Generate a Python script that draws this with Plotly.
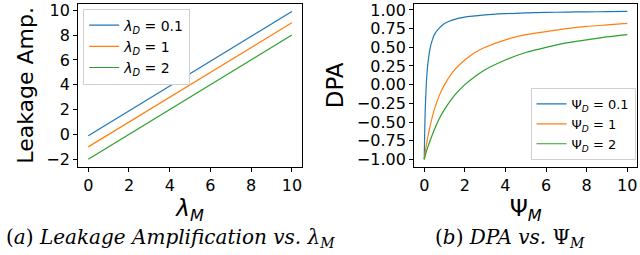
import plotly.graph_objects as go

# ---- data ----
lam_m = [0, 2, 4, 6, 8, 10]
leak_01 = [-0.1, 1.9, 3.9, 5.9, 7.9, 9.9]
leak_1 = [-1.0, 1.0, 3.0, 5.0, 7.0, 9.0]
leak_2 = [-2.0, 0.0, 2.0, 4.0, 6.0, 8.0]

psi_m = [0, 0.02, 0.05, 0.1, 0.15, 0.2, 0.3, 0.4, 0.5, 0.75, 1, 1.5, 2, 2.5, 3, 4, 5, 6, 7, 8, 9, 10]
dpa_01 = [-1.0, -0.67, -0.33, 0.0, 0.2, 0.33, 0.5, 0.6, 0.67, 0.76, 0.82, 0.875, 0.905, 0.92, 0.935, 0.95, 0.96, 0.967, 0.972, 0.975, 0.978, 0.98]
dpa_1 = [-1.0, -0.96, -0.9, -0.82, -0.74, -0.67, -0.54, -0.43, -0.33, -0.14, 0.0, 0.2, 0.33, 0.43, 0.5, 0.6, 0.67, 0.71, 0.75, 0.78, 0.8, 0.82]
dpa_2 = [-1.0, -0.98, -0.95, -0.9, -0.86, -0.82, -0.74, -0.67, -0.6, -0.45, -0.33, -0.14, 0.0, 0.11, 0.2, 0.33, 0.43, 0.5, 0.56, 0.6, 0.64, 0.67]

left_names = ["<i>λ<sub>D</sub></i> = 0.1", "<i>λ<sub>D</sub></i> = 1", "<i>λ<sub>D</sub></i> = 2"]
right_names = ["Ψ<sub><i>D</i></sub> = 0.1", "Ψ<sub><i>D</i></sub> = 1", "Ψ<sub><i>D</i></sub> = 2"]
colors = ["#1f77b4", "#ff7f0e", "#2ca02c"]

fig = go.Figure()
for ys, name, c in zip([leak_01, leak_1, leak_2], left_names, colors):
    fig.add_trace(go.Scatter(x=lam_m, y=ys, mode="lines", name=name,
                             line=dict(color=c, width=1.2),
                             xaxis="x", yaxis="y", legend="legend"))
for ys, name, c in zip([dpa_01, dpa_1, dpa_2], right_names, colors):
    fig.add_trace(go.Scatter(x=psi_m, y=ys, mode="lines", name=name,
                             line=dict(color=c, width=1.2, shape="spline", smoothing=0.6),
                             xaxis="x2", yaxis="y2", legend="legend2"))

axis_common = dict(showline=True, linecolor="black", linewidth=1, mirror=True,
                   ticks="outside", ticklen=4, tickcolor="black", showgrid=False,
                   zeroline=False, ticklabeloverflow="allow",
                   tickfont=dict(family="DejaVu Sans", size=16, color="black"))

fig.update_layout(
    width=640, height=255,
    margin=dict(l=0, r=0, t=0, b=0),
    paper_bgcolor="white", plot_bgcolor="white",
    font=dict(family="DejaVu Sans", color="black"),
    xaxis=dict(domain=[0.122, 0.472], range=[-0.5, 10.5], tickvals=[0, 2, 4, 6, 8, 10],
               anchor="y",
               title=dict(text="<i>λ<sub>M</sub></i>", font=dict(size=23), standoff=3),
               **axis_common),
    yaxis=dict(domain=[0.345, 0.996], range=[-2.6, 10.5], tickvals=[-2, 0, 2, 4, 6, 8, 10],
               ticktext=["−2", "0", "2", "4", "6", "8", "10"], anchor="x",
               title=dict(text="Leakage Amp.", font=dict(size=22), standoff=6),
               **axis_common),
    xaxis2=dict(domain=[0.647, 0.996], range=[-0.5, 10.5], tickvals=[0, 2, 4, 6, 8, 10],
                anchor="y2",
                title=dict(text="Ψ<sub><i>M</i></sub>", font=dict(size=23), standoff=3),
                **axis_common),
    yaxis2=dict(domain=[0.345, 0.996], range=[-1.099, 1.08],
                tickvals=[-1, -0.75, -0.5, -0.25, 0, 0.25, 0.5, 0.75, 1],
                ticktext=["−1.00", "−0.75", "−0.50", "−0.25", "0.00", "0.25", "0.50", "0.75", "1.00"],
                anchor="x2",
                title=dict(text="DPA", font=dict(size=23), standoff=6),
                **axis_common),
    legend=dict(x=0.13, y=0.978, xanchor="left", yanchor="top",
                bgcolor="white", bordercolor="#d0d0d0", borderwidth=1,
                font=dict(size=14), itemwidth=30, tracegroupgap=0),
    legend2=dict(x=0.993, y=0.372, xanchor="right", yanchor="bottom",
                 bgcolor="white", bordercolor="#d0d0d0", borderwidth=1,
                 font=dict(size=13), itemwidth=30, tracegroupgap=0),
    annotations=[
        dict(text="(<i>a</i>) <i>Leakage Amplification vs.</i> <i>λ<sub>M</sub></i>",
             x=170 / 640, y=15 / 255, xref="paper", yref="paper", showarrow=False,
             xanchor="center", yanchor="middle",
             font=dict(family="DejaVu Serif", size=20, color="black")),
        dict(text="(<i>b</i>) <i>DPA vs.</i> Ψ<sub><i>M</i></sub>",
             x=510 / 640, y=15 / 255, xref="paper", yref="paper", showarrow=False,
             xanchor="center", yanchor="middle",
             font=dict(family="DejaVu Serif", size=20, color="black")),
    ],
)

fig.write_html("out.html", config={"displayModeBar": False},
               post_script="document.body.style.margin='0';document.body.style.padding='0';")
